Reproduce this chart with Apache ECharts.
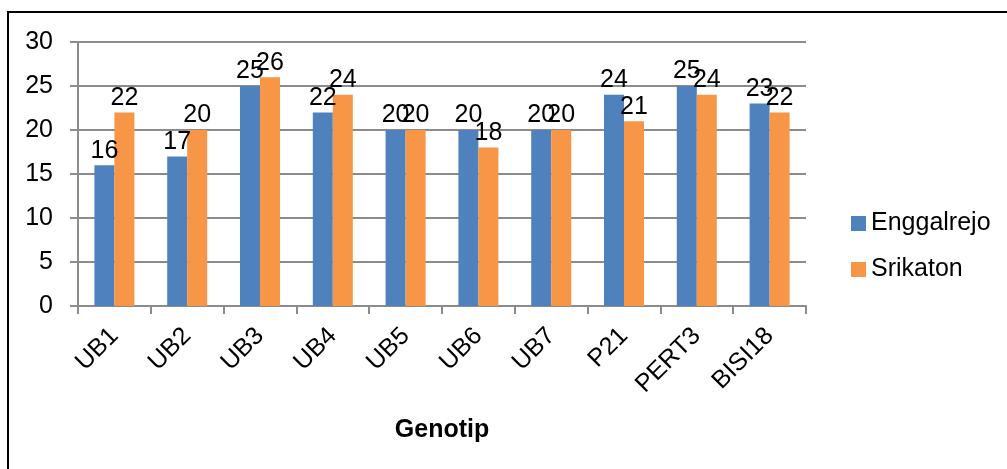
<!DOCTYPE html>
<html>
<head>
<meta charset="utf-8">
<script src="https://cdn.jsdelivr.net/npm/echarts@6/dist/echarts.min.js"></script>
<style>
  html, body { margin: 0; padding: 0; background: #fff; }
  #chart { width: 1007px; height: 469px; }
</style>
</head>
<body>
<div id="chart"></div>
<script>
const genotypes = ['UB1', 'UB2', 'UB3', 'UB4', 'UB5', 'UB6', 'UB7', 'P21', 'PERT3', 'BISI18']
const enggalrejo = [16, 17, 25, 22, 20, 20, 20, 24, 25, 23]
const srikaton = [22, 20, 26, 24, 20, 18, 20, 21, 24, 22]

const chart = echarts.init(document.getElementById('chart'), null, { renderer: 'canvas' })
const font = 'Arial, "Liberation Sans", sans-serif'
const gridColor = '#8c8c8c'

const labelStyle = { show: true, position: 'top', color: '#000', fontSize: 25, fontFamily: font, distance: 2 }

chart.setOption({
  animation: false,
  graphic: [{
    type: 'rect',
    shape: { x: 8, y: 12, width: 1020, height: 470 },
    style: { fill: 'none', stroke: '#000', lineWidth: 2 },
  }],
  legend: {
    orient: 'vertical',
    left: 846,
    top: 206,
    itemWidth: 15,
    itemHeight: 15,
    itemGap: 21,
    icon: 'rect',
    textStyle: { color: '#000', fontSize: 25, fontFamily: font },
    data: ['Enggalrejo', 'Srikaton'],
  },
  grid: { left: 78, right: 201, top: 42, bottom: 163, containLabel: false },
  xAxis: {
    type: 'category',
    data: genotypes,
    name: 'Genotip',
    nameLocation: 'middle',
    nameGap: 112,
    nameTextStyle: { color: '#000', fontSize: 25, fontWeight: 'bold', fontFamily: font },
    axisLine: { lineStyle: { color: gridColor, width: 2 } },
    axisTick: { show: true, length: 8, lineStyle: { color: gridColor, width: 2 } },
    axisLabel: { rotate: 45, color: '#000', fontSize: 25, fontFamily: font, margin: 26, interval: 0 },
  },
  yAxis: {
    type: 'value',
    min: 0,
    max: 30,
    interval: 5,
    axisLine: { show: true, lineStyle: { color: gridColor, width: 2 } },
    axisTick: { show: true, length: 8, lineStyle: { color: gridColor, width: 2 } },
    axisLabel: { color: '#000', fontSize: 25, fontFamily: font, margin: 25 },
    splitLine: { lineStyle: { color: gridColor, width: 2 } },
  },
  series: [
    {
      name: 'Enggalrejo',
      type: 'bar',
      data: enggalrejo,
      barWidth: 20,
      barGap: '0%',
      itemStyle: { color: '#4f81bd' },
      label: labelStyle,
    },
    {
      name: 'Srikaton',
      type: 'bar',
      data: srikaton,
      barWidth: 20,
      itemStyle: { color: '#f79646' },
      label: labelStyle,
    },
  ],
})
</script>
</body>
</html>
